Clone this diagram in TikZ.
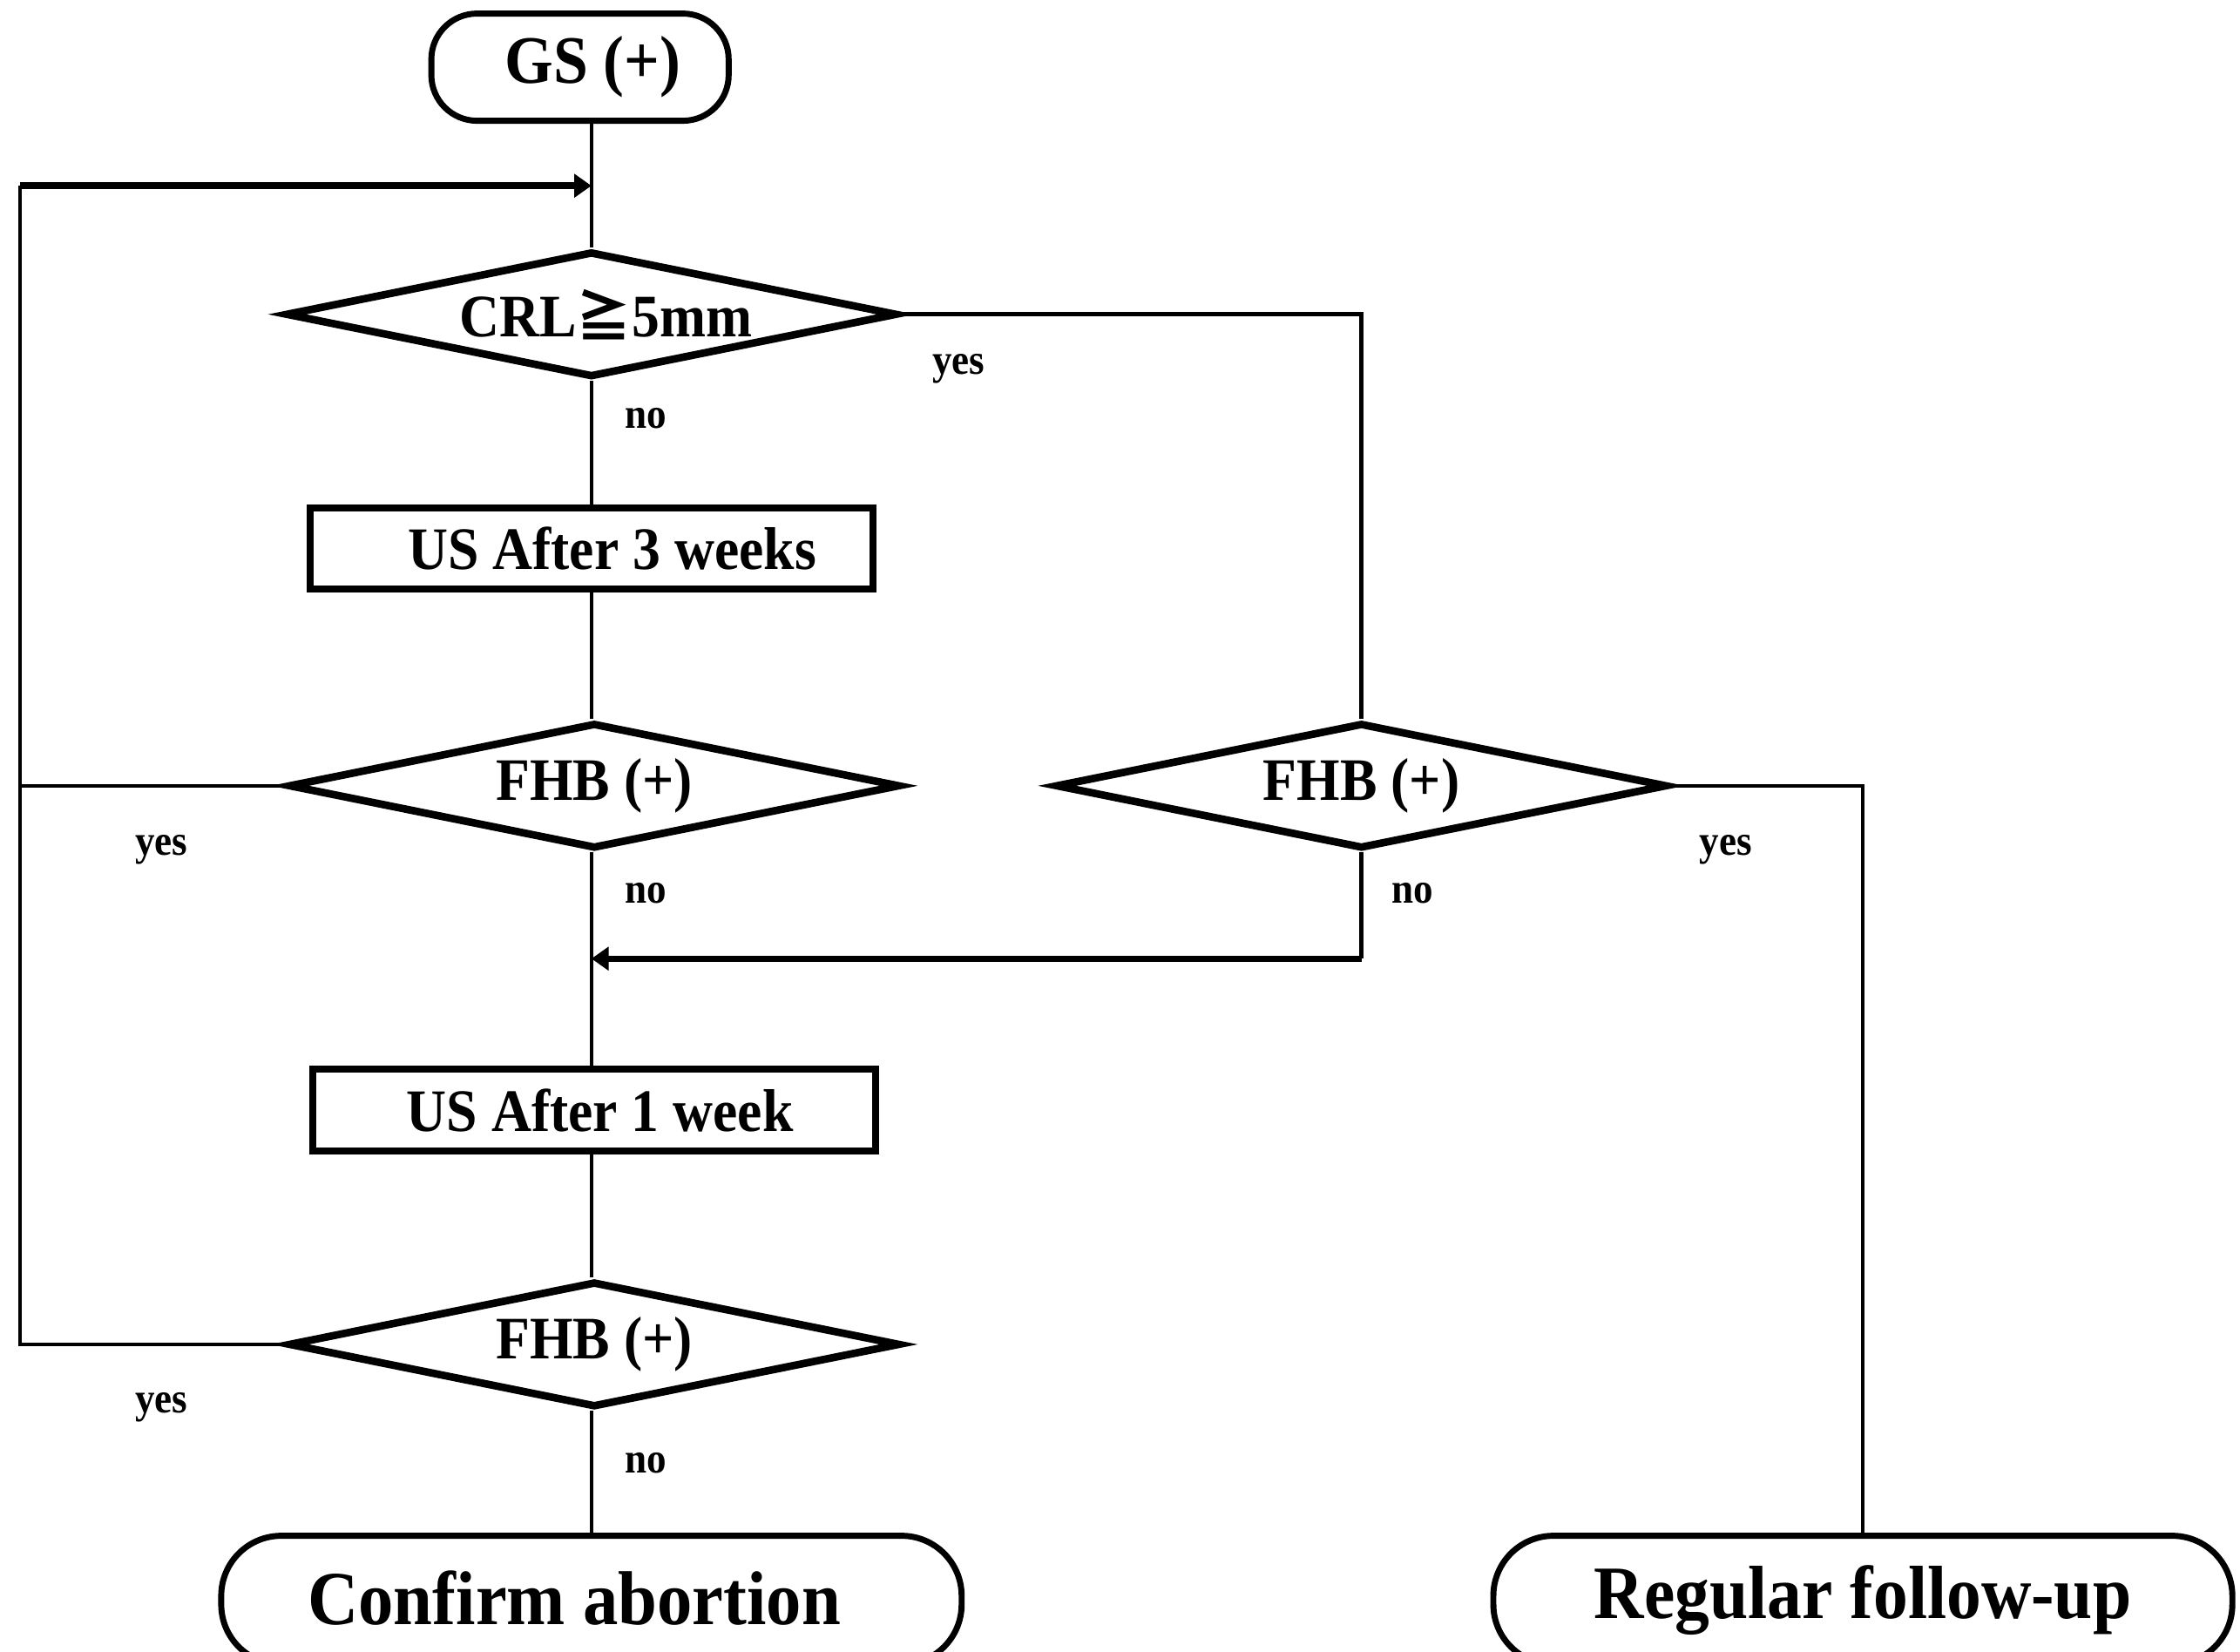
\documentclass[tikz,border=0pt]{standalone}
\usepackage{fontspec}
\setmainfont{Liberation Serif}[FakeStretch=0.92]
\newfontfamily\symfont{Noto Sans CJK JP}
\usetikzlibrary{shapes.geometric,arrows.meta}
\tikzset{
  x=0.01cm, y=-0.01cm,
  term/.style={draw, line width=1.2pt, rounded corners=0.32cm, inner sep=0pt},
  decide/.style={draw, diamond, aspect=4.8, line width=1.5pt, inner sep=0pt,
    minimum width=4.28cm, minimum height=0.88cm, font=\bfseries\fontsize{12}{13}\selectfont},
  procbox/.style={draw, rectangle, line width=1.4pt, minimum width=3.94cm,
    minimum height=0.57cm, inner sep=0pt, font=\bfseries\fontsize{12}{13}\selectfont},
  answer/.style={font=\bfseries\fontsize{8.5}{9}\selectfont, inner sep=0pt},
  link/.style={line width=0.8pt},
  back/.style={line width=1.3pt, -{Triangle[length=0.12cm,width=0.16cm]}},
}
\begin{document}
\begin{tikzpicture}
\clip (0,0) rectangle (1568,1156);
%
\node[term, minimum width=2.08cm, minimum height=0.75cm,
  font=\bfseries\fontsize{13.5}{14}\selectfont] (gs) at (406,47) {\hspace*{0.18cm}GS (+)};
\node[decide] (crl) at (414,220) {\hspace*{0.2cm}CRL{\symfont\fontsize{11}{12}\selectfont ≧}5mm};
\node[procbox] (usthree) at (414,384) {\hspace*{0.29cm}US After 3 weeks};
\node[decide] (fhbone) at (416,550) {FHB (+)};
\node[decide] (fhbtwo) at (953,550) {FHB (+)};
\node[procbox] (usone) at (416,777) {\hspace*{0.08cm}US After 1 week};
\node[decide] (fhbthree) at (416,941) {FHB (+)};
%
\node[term, minimum width=5.18cm, minimum height=0.9cm, rounded corners=0.42cm,
  font=\bfseries\fontsize{15.2}{16}\selectfont] (abort) at (414,1120) {\raisebox{0.04cm}{Confirm abortion}\hspace*{0.24cm}};
\node[term, minimum width=5.17cm, minimum height=0.9cm, rounded corners=0.42cm,
  font=\bfseries\fontsize{15}{16}\selectfont] (follow) at (1304,1120) {\raisebox{0.04cm}{Regular follow-up}};
%
\coordinate (loopx) at (14,0);
\coordinate (loopin) at (crl.north |- 0,130);
\coordinate (rejoin) at (crl.north |- 0,671);
%
\draw[link] (gs.south -| crl.north) -- (crl.north);
\draw[link] (crl.south) -- (usthree.north);
\draw[link] (usthree.south -| crl.north) -- (fhbone.north -| crl.north);
\draw[link] (fhbone.south -| crl.north) -- (usone.north -| crl.north);
\draw[link] (usone.south -| crl.north) -- (fhbthree.north -| crl.north);
\draw[link] (fhbthree.south -| crl.north) -- (abort.north);
%
\draw[link] (fhbthree.west) -- (fhbthree.west -| loopx) -- (loopx |- loopin);
\draw[link] (fhbone.west) -- (fhbone.west -| loopx);
\draw[back] (loopx |- loopin) -- (loopin);
%
\draw[link] (crl.east) -| (fhbtwo.north);
\draw[link] (fhbtwo.east) -| (follow.north);
\draw[link] (fhbtwo.south) -- (fhbtwo.south |- rejoin);
\draw[back] (fhbtwo.south |- rejoin) -- (rejoin);
%
\node[answer] (yescrl) at (671,258) {yes};
\node[answer] (nocrl) at (452,293) {no};
\node[answer] (yesone) at (113,595) {yes};
\node[answer] (noone) at (452,625) {no};
\node[answer] (yestwo) at (1208,595) {yes};
\node[answer] (notwo) at (989,625) {no};
\node[answer] (yesthree) at (113,985) {yes};
\node[answer] (nothree) at (452,1024) {no};
\end{tikzpicture}
\end{document}
